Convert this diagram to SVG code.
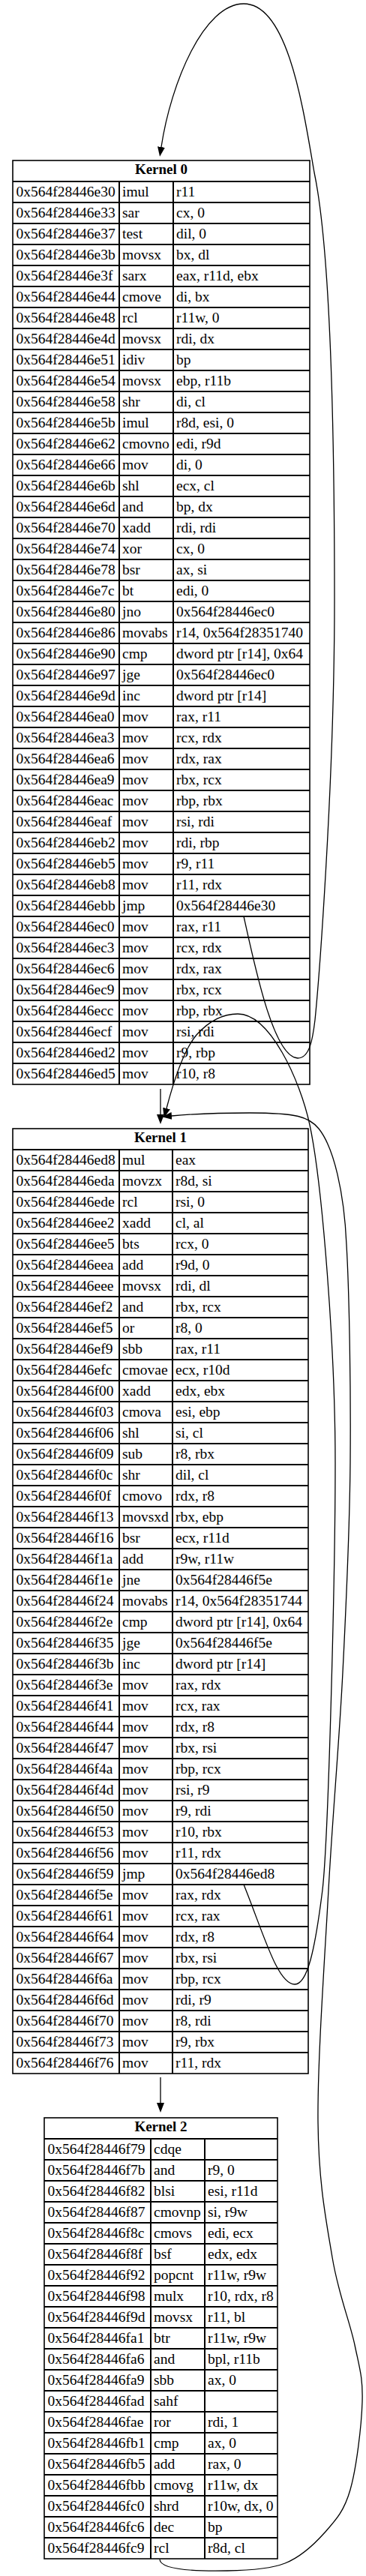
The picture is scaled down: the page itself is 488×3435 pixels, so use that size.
<svg xmlns="http://www.w3.org/2000/svg" width="488" height="3435" viewBox="0 0 488 3435">
<style>
.bg{fill:#fff}
.box{fill:none;stroke:#000;stroke-width:1.6}
.grid{fill:none;stroke:#000;stroke-width:2}
text{font-family:"Liberation Serif","Times New Roman",serif;font-size:19.5px;fill:#000}
.h{font-weight:bold;font-size:19px;text-anchor:middle}
.edge{fill:none;stroke:#000;stroke-width:1.3}
</style>
<defs>
<marker id="arr" markerUnits="userSpaceOnUse" markerWidth="14" markerHeight="11" viewBox="0 0 14 11" refX="0" refY="5.5" orient="auto"><path d="M0,0.5L13,5.5L0,10.5z" fill="#000"/></marker>
</defs>
<rect class="bg" x="0" y="0" width="488" height="3435"/>

<g id="kernel0">
<rect class="box" x="17" y="214" width="396" height="1232"/>
<path class="grid" d="M17 242H413M17 270H413M17 298H413M17 326H413M17 354H413M17 382H413M17 410H413M17 438H413M17 466H413M17 494H413M17 522H413M17 550H413M17 578H413M17 606H413M17 634H413M17 662H413M17 690H413M17 718H413M17 746H413M17 774H413M17 802H413M17 830H413M17 858H413M17 886H413M17 914H413M17 942H413M17 970H413M17 998H413M17 1026H413M17 1054H413M17 1082H413M17 1110H413M17 1138H413M17 1166H413M17 1194H413M17 1222H413M17 1250H413M17 1278H413M17 1306H413M17 1334H413M17 1362H413M17 1390H413M17 1418H413M159 242V1446M231 242V1446"/>
<text class="h" x="215" y="231.5">Kernel 0</text>
<text x="21.5" y="262">0x564f28446e30</text><text x="163" y="262">imul</text><text x="235" y="262">r11</text>
<text x="21.5" y="290">0x564f28446e33</text><text x="163" y="290">sar</text><text x="235" y="290">cx, 0</text>
<text x="21.5" y="318">0x564f28446e37</text><text x="163" y="318">test</text><text x="235" y="318">dil, 0</text>
<text x="21.5" y="346">0x564f28446e3b</text><text x="163" y="346">movsx</text><text x="235" y="346">bx, dl</text>
<text x="21.5" y="374">0x564f28446e3f</text><text x="163" y="374">sarx</text><text x="235" y="374">eax, r11d, ebx</text>
<text x="21.5" y="402">0x564f28446e44</text><text x="163" y="402">cmove</text><text x="235" y="402">di, bx</text>
<text x="21.5" y="430">0x564f28446e48</text><text x="163" y="430">rcl</text><text x="235" y="430">r11w, 0</text>
<text x="21.5" y="458">0x564f28446e4d</text><text x="163" y="458">movsx</text><text x="235" y="458">rdi, dx</text>
<text x="21.5" y="486">0x564f28446e51</text><text x="163" y="486">idiv</text><text x="235" y="486">bp</text>
<text x="21.5" y="514">0x564f28446e54</text><text x="163" y="514">movsx</text><text x="235" y="514">ebp, r11b</text>
<text x="21.5" y="542">0x564f28446e58</text><text x="163" y="542">shr</text><text x="235" y="542">di, cl</text>
<text x="21.5" y="570">0x564f28446e5b</text><text x="163" y="570">imul</text><text x="235" y="570">r8d, esi, 0</text>
<text x="21.5" y="598">0x564f28446e62</text><text x="163" y="598">cmovno</text><text x="235" y="598">edi, r9d</text>
<text x="21.5" y="626">0x564f28446e66</text><text x="163" y="626">mov</text><text x="235" y="626">di, 0</text>
<text x="21.5" y="654">0x564f28446e6b</text><text x="163" y="654">shl</text><text x="235" y="654">ecx, cl</text>
<text x="21.5" y="682">0x564f28446e6d</text><text x="163" y="682">and</text><text x="235" y="682">bp, dx</text>
<text x="21.5" y="710">0x564f28446e70</text><text x="163" y="710">xadd</text><text x="235" y="710">rdi, rdi</text>
<text x="21.5" y="738">0x564f28446e74</text><text x="163" y="738">xor</text><text x="235" y="738">cx, 0</text>
<text x="21.5" y="766">0x564f28446e78</text><text x="163" y="766">bsr</text><text x="235" y="766">ax, si</text>
<text x="21.5" y="794">0x564f28446e7c</text><text x="163" y="794">bt</text><text x="235" y="794">edi, 0</text>
<text x="21.5" y="822">0x564f28446e80</text><text x="163" y="822">jno</text><text x="235" y="822">0x564f28446ec0</text>
<text x="21.5" y="850">0x564f28446e86</text><text x="163" y="850">movabs</text><text x="235" y="850">r14, 0x564f28351740</text>
<text x="21.5" y="878">0x564f28446e90</text><text x="163" y="878">cmp</text><text x="235" y="878">dword ptr [r14], 0x64</text>
<text x="21.5" y="906">0x564f28446e97</text><text x="163" y="906">jge</text><text x="235" y="906">0x564f28446ec0</text>
<text x="21.5" y="934">0x564f28446e9d</text><text x="163" y="934">inc</text><text x="235" y="934">dword ptr [r14]</text>
<text x="21.5" y="962">0x564f28446ea0</text><text x="163" y="962">mov</text><text x="235" y="962">rax, r11</text>
<text x="21.5" y="990">0x564f28446ea3</text><text x="163" y="990">mov</text><text x="235" y="990">rcx, rdx</text>
<text x="21.5" y="1018">0x564f28446ea6</text><text x="163" y="1018">mov</text><text x="235" y="1018">rdx, rax</text>
<text x="21.5" y="1046">0x564f28446ea9</text><text x="163" y="1046">mov</text><text x="235" y="1046">rbx, rcx</text>
<text x="21.5" y="1074">0x564f28446eac</text><text x="163" y="1074">mov</text><text x="235" y="1074">rbp, rbx</text>
<text x="21.5" y="1102">0x564f28446eaf</text><text x="163" y="1102">mov</text><text x="235" y="1102">rsi, rdi</text>
<text x="21.5" y="1130">0x564f28446eb2</text><text x="163" y="1130">mov</text><text x="235" y="1130">rdi, rbp</text>
<text x="21.5" y="1158">0x564f28446eb5</text><text x="163" y="1158">mov</text><text x="235" y="1158">r9, r11</text>
<text x="21.5" y="1186">0x564f28446eb8</text><text x="163" y="1186">mov</text><text x="235" y="1186">r11, rdx</text>
<text x="21.5" y="1214">0x564f28446ebb</text><text x="163" y="1214">jmp</text><text x="235" y="1214">0x564f28446e30</text>
<text x="21.5" y="1242">0x564f28446ec0</text><text x="163" y="1242">mov</text><text x="235" y="1242">rax, r11</text>
<text x="21.5" y="1270">0x564f28446ec3</text><text x="163" y="1270">mov</text><text x="235" y="1270">rcx, rdx</text>
<text x="21.5" y="1298">0x564f28446ec6</text><text x="163" y="1298">mov</text><text x="235" y="1298">rdx, rax</text>
<text x="21.5" y="1326">0x564f28446ec9</text><text x="163" y="1326">mov</text><text x="235" y="1326">rbx, rcx</text>
<text x="21.5" y="1354">0x564f28446ecc</text><text x="163" y="1354">mov</text><text x="235" y="1354">rbp, rbx</text>
<text x="21.5" y="1382">0x564f28446ecf</text><text x="163" y="1382">mov</text><text x="235" y="1382">rsi, rdi</text>
<text x="21.5" y="1410">0x564f28446ed2</text><text x="163" y="1410">mov</text><text x="235" y="1410">r9, rbp</text>
<text x="21.5" y="1438">0x564f28446ed5</text><text x="163" y="1438">mov</text><text x="235" y="1438">r10, r8</text>
</g>

<g id="kernel1">
<rect class="box" x="17" y="1505" width="394" height="1260"/>
<path class="grid" d="M17 1533H411M17 1561H411M17 1589H411M17 1617H411M17 1645H411M17 1673H411M17 1701H411M17 1729H411M17 1757H411M17 1785H411M17 1813H411M17 1841H411M17 1869H411M17 1897H411M17 1925H411M17 1953H411M17 1981H411M17 2009H411M17 2037H411M17 2065H411M17 2093H411M17 2121H411M17 2149H411M17 2177H411M17 2205H411M17 2233H411M17 2261H411M17 2289H411M17 2317H411M17 2345H411M17 2373H411M17 2401H411M17 2429H411M17 2457H411M17 2485H411M17 2513H411M17 2541H411M17 2569H411M17 2597H411M17 2625H411M17 2653H411M17 2681H411M17 2709H411M17 2737H411M159 1533V2765M230 1533V2765"/>
<text class="h" x="214" y="1522.5">Kernel 1</text>
<text x="21.5" y="1553">0x564f28446ed8</text><text x="163" y="1553">mul</text><text x="234" y="1553">eax</text>
<text x="21.5" y="1581">0x564f28446eda</text><text x="163" y="1581">movzx</text><text x="234" y="1581">r8d, si</text>
<text x="21.5" y="1609">0x564f28446ede</text><text x="163" y="1609">rcl</text><text x="234" y="1609">rsi, 0</text>
<text x="21.5" y="1637">0x564f28446ee2</text><text x="163" y="1637">xadd</text><text x="234" y="1637">cl, al</text>
<text x="21.5" y="1665">0x564f28446ee5</text><text x="163" y="1665">bts</text><text x="234" y="1665">rcx, 0</text>
<text x="21.5" y="1693">0x564f28446eea</text><text x="163" y="1693">add</text><text x="234" y="1693">r9d, 0</text>
<text x="21.5" y="1721">0x564f28446eee</text><text x="163" y="1721">movsx</text><text x="234" y="1721">rdi, dl</text>
<text x="21.5" y="1749">0x564f28446ef2</text><text x="163" y="1749">and</text><text x="234" y="1749">rbx, rcx</text>
<text x="21.5" y="1777">0x564f28446ef5</text><text x="163" y="1777">or</text><text x="234" y="1777">r8, 0</text>
<text x="21.5" y="1805">0x564f28446ef9</text><text x="163" y="1805">sbb</text><text x="234" y="1805">rax, r11</text>
<text x="21.5" y="1833">0x564f28446efc</text><text x="163" y="1833">cmovae</text><text x="234" y="1833">ecx, r10d</text>
<text x="21.5" y="1861">0x564f28446f00</text><text x="163" y="1861">xadd</text><text x="234" y="1861">edx, ebx</text>
<text x="21.5" y="1889">0x564f28446f03</text><text x="163" y="1889">cmova</text><text x="234" y="1889">esi, ebp</text>
<text x="21.5" y="1917">0x564f28446f06</text><text x="163" y="1917">shl</text><text x="234" y="1917">si, cl</text>
<text x="21.5" y="1945">0x564f28446f09</text><text x="163" y="1945">sub</text><text x="234" y="1945">r8, rbx</text>
<text x="21.5" y="1973">0x564f28446f0c</text><text x="163" y="1973">shr</text><text x="234" y="1973">dil, cl</text>
<text x="21.5" y="2001">0x564f28446f0f</text><text x="163" y="2001">cmovo</text><text x="234" y="2001">rdx, r8</text>
<text x="21.5" y="2029">0x564f28446f13</text><text x="163" y="2029">movsxd</text><text x="234" y="2029">rbx, ebp</text>
<text x="21.5" y="2057">0x564f28446f16</text><text x="163" y="2057">bsr</text><text x="234" y="2057">ecx, r11d</text>
<text x="21.5" y="2085">0x564f28446f1a</text><text x="163" y="2085">add</text><text x="234" y="2085">r9w, r11w</text>
<text x="21.5" y="2113">0x564f28446f1e</text><text x="163" y="2113">jne</text><text x="234" y="2113">0x564f28446f5e</text>
<text x="21.5" y="2141">0x564f28446f24</text><text x="163" y="2141">movabs</text><text x="234" y="2141">r14, 0x564f28351744</text>
<text x="21.5" y="2169">0x564f28446f2e</text><text x="163" y="2169">cmp</text><text x="234" y="2169">dword ptr [r14], 0x64</text>
<text x="21.5" y="2197">0x564f28446f35</text><text x="163" y="2197">jge</text><text x="234" y="2197">0x564f28446f5e</text>
<text x="21.5" y="2225">0x564f28446f3b</text><text x="163" y="2225">inc</text><text x="234" y="2225">dword ptr [r14]</text>
<text x="21.5" y="2253">0x564f28446f3e</text><text x="163" y="2253">mov</text><text x="234" y="2253">rax, rdx</text>
<text x="21.5" y="2281">0x564f28446f41</text><text x="163" y="2281">mov</text><text x="234" y="2281">rcx, rax</text>
<text x="21.5" y="2309">0x564f28446f44</text><text x="163" y="2309">mov</text><text x="234" y="2309">rdx, r8</text>
<text x="21.5" y="2337">0x564f28446f47</text><text x="163" y="2337">mov</text><text x="234" y="2337">rbx, rsi</text>
<text x="21.5" y="2365">0x564f28446f4a</text><text x="163" y="2365">mov</text><text x="234" y="2365">rbp, rcx</text>
<text x="21.5" y="2393">0x564f28446f4d</text><text x="163" y="2393">mov</text><text x="234" y="2393">rsi, r9</text>
<text x="21.5" y="2421">0x564f28446f50</text><text x="163" y="2421">mov</text><text x="234" y="2421">r9, rdi</text>
<text x="21.5" y="2449">0x564f28446f53</text><text x="163" y="2449">mov</text><text x="234" y="2449">r10, rbx</text>
<text x="21.5" y="2477">0x564f28446f56</text><text x="163" y="2477">mov</text><text x="234" y="2477">r11, rdx</text>
<text x="21.5" y="2505">0x564f28446f59</text><text x="163" y="2505">jmp</text><text x="234" y="2505">0x564f28446ed8</text>
<text x="21.5" y="2533">0x564f28446f5e</text><text x="163" y="2533">mov</text><text x="234" y="2533">rax, rdx</text>
<text x="21.5" y="2561">0x564f28446f61</text><text x="163" y="2561">mov</text><text x="234" y="2561">rcx, rax</text>
<text x="21.5" y="2589">0x564f28446f64</text><text x="163" y="2589">mov</text><text x="234" y="2589">rdx, r8</text>
<text x="21.5" y="2617">0x564f28446f67</text><text x="163" y="2617">mov</text><text x="234" y="2617">rbx, rsi</text>
<text x="21.5" y="2645">0x564f28446f6a</text><text x="163" y="2645">mov</text><text x="234" y="2645">rbp, rcx</text>
<text x="21.5" y="2673">0x564f28446f6d</text><text x="163" y="2673">mov</text><text x="234" y="2673">rdi, r9</text>
<text x="21.5" y="2701">0x564f28446f70</text><text x="163" y="2701">mov</text><text x="234" y="2701">r8, rdi</text>
<text x="21.5" y="2729">0x564f28446f73</text><text x="163" y="2729">mov</text><text x="234" y="2729">r9, rbx</text>
<text x="21.5" y="2757">0x564f28446f76</text><text x="163" y="2757">mov</text><text x="234" y="2757">r11, rdx</text>
</g>

<g id="kernel2">
<rect class="box" x="59" y="2824" width="311" height="588"/>
<path class="grid" d="M59 2852H370M59 2880H370M59 2908H370M59 2936H370M59 2964H370M59 2992H370M59 3020H370M59 3048H370M59 3076H370M59 3104H370M59 3132H370M59 3160H370M59 3188H370M59 3216H370M59 3244H370M59 3272H370M59 3300H370M59 3328H370M59 3356H370M59 3384H370M201 2852V3412M273 2852V3412"/>
<text class="h" x="214.5" y="2841.5">Kernel 2</text>
<text x="63.5" y="2872">0x564f28446f79</text><text x="205" y="2872">cdqe</text>
<text x="63.5" y="2900">0x564f28446f7b</text><text x="205" y="2900">and</text><text x="277" y="2900">r9, 0</text>
<text x="63.5" y="2928">0x564f28446f82</text><text x="205" y="2928">blsi</text><text x="277" y="2928">esi, r11d</text>
<text x="63.5" y="2956">0x564f28446f87</text><text x="205" y="2956">cmovnp</text><text x="277" y="2956">si, r9w</text>
<text x="63.5" y="2984">0x564f28446f8c</text><text x="205" y="2984">cmovs</text><text x="277" y="2984">edi, ecx</text>
<text x="63.5" y="3012">0x564f28446f8f</text><text x="205" y="3012">bsf</text><text x="277" y="3012">edx, edx</text>
<text x="63.5" y="3040">0x564f28446f92</text><text x="205" y="3040">popcnt</text><text x="277" y="3040">r11w, r9w</text>
<text x="63.5" y="3068">0x564f28446f98</text><text x="205" y="3068">mulx</text><text x="277" y="3068">r10, rdx, r8</text>
<text x="63.5" y="3096">0x564f28446f9d</text><text x="205" y="3096">movsx</text><text x="277" y="3096">r11, bl</text>
<text x="63.5" y="3124">0x564f28446fa1</text><text x="205" y="3124">btr</text><text x="277" y="3124">r11w, r9w</text>
<text x="63.5" y="3152">0x564f28446fa6</text><text x="205" y="3152">and</text><text x="277" y="3152">bpl, r11b</text>
<text x="63.5" y="3180">0x564f28446fa9</text><text x="205" y="3180">sbb</text><text x="277" y="3180">ax, 0</text>
<text x="63.5" y="3208">0x564f28446fad</text><text x="205" y="3208">sahf</text>
<text x="63.5" y="3236">0x564f28446fae</text><text x="205" y="3236">ror</text><text x="277" y="3236">rdi, 1</text>
<text x="63.5" y="3264">0x564f28446fb1</text><text x="205" y="3264">cmp</text><text x="277" y="3264">ax, 0</text>
<text x="63.5" y="3292">0x564f28446fb5</text><text x="205" y="3292">add</text><text x="277" y="3292">rax, 0</text>
<text x="63.5" y="3320">0x564f28446fbb</text><text x="205" y="3320">cmovg</text><text x="277" y="3320">r11w, dx</text>
<text x="63.5" y="3348">0x564f28446fc0</text><text x="205" y="3348">shrd</text><text x="277" y="3348">r10w, dx, 0</text>
<text x="63.5" y="3376">0x564f28446fc6</text><text x="205" y="3376">dec</text><text x="277" y="3376">bp</text>
<text x="63.5" y="3404">0x564f28446fc9</text><text x="205" y="3404">rcl</text><text x="277" y="3404">r8d, cl</text>
</g>

<g id="edges">
<path class="edge" marker-end="url(#arr)" d="M325,1222 C340,1290 365,1410 397,1411 C413,1411 417,1385 420,1360 C424,1320 446,1050 446,800 C446,550 440,330 419,230 C405,150 385,5 325,5 C272,5 228,110 215,196"/>
<path class="edge" marker-end="url(#arr)" d="M214,1452 V1486"/>
<path class="edge" marker-end="url(#arr)" d="M325,2513 C352,2580 370,2646 393,2646 C410,2646 420,2600 430,2520 C438,2450 447,2100 447,1950 C447,1800 430,1580 413,1500 C400,1440 360,1352 317,1352 C300,1352 280,1360 262,1380 C245,1400 232,1440 222,1478"/>
<path class="edge" marker-end="url(#arr)" d="M214,2770 V2804"/>
<path class="edge" marker-end="url(#arr)" d="M213,3413 C214,3425 250,3429 303,3428 C335,3427.5 365,3424 380,3418 C401.7,3409.5 418.5,3393.3 433,3377 C447.5,3360.7 458.7,3349 467,3320 C475.3,3291 482,3235.2 483,3203 C484,3170.8 479.7,3159.2 473,3127 C466.3,3094.8 451.2,3059.5 443,3010 C434.8,2960.5 424.8,2911.7 424,2830 C423.2,2748.3 432.5,2620 438,2520 C443.5,2420 452.2,2325 457,2230 C461.8,2135 466.2,2045 467,1950 C467.8,1855 466,1729.5 462,1660 C459,1590 445,1530 425,1505 C412,1489 395,1484 333,1484 C290,1484 250,1486 229,1488"/>
</g>
</svg>
